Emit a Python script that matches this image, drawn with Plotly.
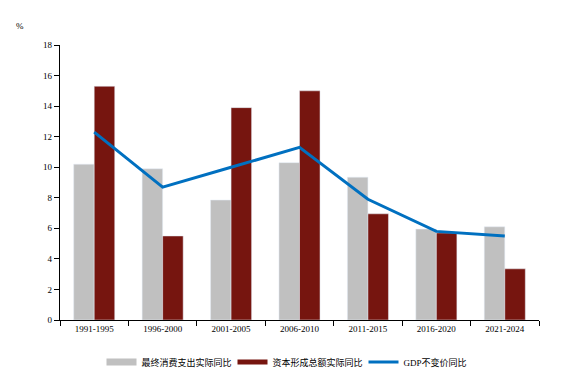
import plotly.graph_objects as go

categories = ["1991-1995", "1996-2000", "2001-2005", "2006-2010", "2011-2015", "2016-2020", "2021-2024"]
consumption = [10.2, 9.9, 7.85, 10.3, 9.35, 5.95, 6.1]
capital = [15.3, 5.5, 13.9, 15.0, 6.95, 5.7, 3.35]
gdp = [12.3, 8.7, 10.0, 11.3, 7.9, 5.8, 5.5]

names = ["最终消费支出实际同比", "资本形成总额实际同比", "GDP不变价同比"]
colors = ["#C0C0C0", "#76150F", "#0070C0"]

fig = go.Figure()
fig.add_trace(go.Bar(x=categories, y=consumption, name=names[0], marker_color=colors[0],
                     showlegend=False))
fig.add_trace(go.Bar(x=categories, y=capital, name=names[1], marker_color=colors[1],
                     showlegend=False))
fig.add_trace(go.Scatter(x=categories, y=gdp, name=names[2], mode="lines",
                         line=dict(color=colors[2], width=3), showlegend=False))
# legend entries (bar legend drawn as wide swatches like the reference)
for nm, c, w in zip(names, colors, [7, 5, 3]):
    fig.add_trace(go.Scatter(x=[None], y=[None], name=nm, mode="lines",
                             line=dict(color=c, width=w), showlegend=True))

W, H = 572, 374  # page body adds an 8px offset
font = "Liberation Serif, Noto Sans CJK SC, serif"
fig.update_layout(
    width=W, height=H,
    margin=dict(l=52, r=41, t=37, b=62, autoexpand=False),
    plot_bgcolor="white", paper_bgcolor="white",
    font=dict(family=font, size=9, color="black"),
    barmode="group", bargap=0.4, bargroupgap=0,
    showlegend=True,
    legend=dict(orientation="h", x=290 / W, xanchor="center", xref="container",
                y=20 / H, yanchor="middle", yref="container",
                font=dict(size=9, color="black"), itemwidth=30, tracegroupgap=0,
                traceorder="normal", entrywidth=86, entrywidthmode="pixels"),
    xaxis=dict(showline=True, linecolor="black", linewidth=1.2, ticks="outside",
               tickson="boundaries", ticklen=5, tickcolor="black", showgrid=False,
               tickfont=dict(size=9, color="black"), automargin=False),
    yaxis=dict(range=[0, 18], dtick=2, showline=True, linecolor="black", linewidth=1.2,
               ticks="outside", ticklen=5, tickcolor="black", showgrid=False,
               zeroline=False, tickfont=dict(size=9, color="black"), automargin=False),
    annotations=[dict(text="%", xref="paper", yref="paper", x=-0.0835, y=1.069,
                      xanchor="center", yanchor="middle", showarrow=False,
                      font=dict(size=9, color="black"))],
)
fig.write_html("out.html")
